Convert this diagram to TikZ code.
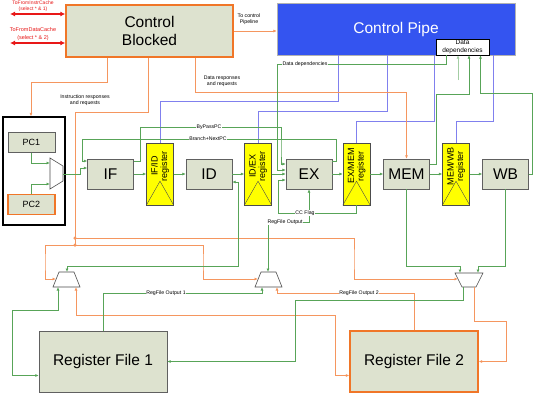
\documentclass[tikz,border=0pt]{standalone}
\usepackage{fontspec}
\setmainfont{Liberation Sans}
\usetikzlibrary{arrows.meta}

\definecolor{boxfill}{RGB}{221,226,207}
\definecolor{pipeblue}{RGB}{52,84,240}
\definecolor{wireblue}{RGB}{128,128,238}
\definecolor{wiregreen}{RGB}{88,164,88}
\definecolor{wireorange}{RGB}{245,150,95}
\definecolor{edgeorange}{RGB}{240,118,40}
\definecolor{regyellow}{RGB}{255,255,0}
\definecolor{wirered}{RGB}{232,24,24}

\begin{document}
\begin{tikzpicture}[x=1pt, y=-1pt,
  >={Latex[length=3.5pt,width=3pt]},
  box/.style={rectangle, draw=gray!75!black, fill=boxfill, inner sep=0pt, align=center},
  stage/.style={box, minimum width=46pt, minimum height=30pt, font=\fontsize{15.5}{17}\selectfont},
  hot/.style={draw=edgeorange, line width=1.4pt},
  pipereg/.style={rectangle, draw=black!70, fill=regyellow, minimum width=27pt, minimum height=62pt, inner sep=0pt},
  regtext/.style={rotate=90, align=center, font=\fontsize{9}{9.5}\selectfont},
  lbl/.style={font=\fontsize{5.2}{6}\selectfont, align=center, inner sep=0.6pt},
  onwire/.style={lbl, fill=white},
  gwire/.style={draw=wiregreen, line width=0.8pt, ->},
  owire/.style={draw=wireorange, line width=1pt},
  bwire/.style={draw=wireblue, line width=1pt},
  redw/.style={draw=wirered, line width=1.6pt, {Latex[length=5pt,width=5pt]}-{Latex[length=5pt,width=5pt]}},
  mux/.style={draw=gray!60!black, fill=white, line width=0.6pt},
  dot/.style={circle, fill=wireorange, inner sep=0pt, minimum size=3.5pt}
]
  \fill[white] (0,0) rectangle (537,400);
  \useasboundingbox (0,0) rectangle (537,400);

  % control blocks
  \node[box, hot, minimum width=167pt, minimum height=52pt, font=\fontsize{15.5}{18}\selectfont] (cblocked) at (149.5,31) {Control\\Blocked};
  \node[rectangle, draw=gray!60, fill=pipeblue, text=white, minimum width=238pt, minimum height=52pt, font=\fontsize{15.5}{17}\selectfont] (cpipe) at (396,29) {Control Pipe};
  \node[rectangle, draw=black, fill=white, minimum width=53pt, minimum height=16pt, inner sep=0pt, align=center, font=\fontsize{6.5}{7.5}\selectfont] (ddep) at (462.5,47) {Data\\dependencies};

  % program counters
  \node[rectangle, draw=black, line width=1.3pt, minimum width=62pt, minimum height=108pt] (pcbox) at (34,171) {};
  \node[box, minimum width=47pt, minimum height=20pt, font=\fontsize{9}{10}\selectfont] (pc1) at (31.5,142.5) {PC1};
  \node[box, hot, minimum width=47pt, minimum height=20pt, font=\fontsize{9}{10}\selectfont] (pc2) at (31.5,204.5) {PC2};

  % pipeline
  \node[stage]   (if)    at (110.5,174) {IF};
  \node[pipereg] (ifid)  at (160,174)   {};
  \node[stage]   (id)    at (209,174)   {ID};
  \node[pipereg] (idex)  at (258,174)   {};
  \node[stage]   (ex)    at (309,174)   {EX};
  \node[pipereg] (exmem) at (356.5,174) {};
  \node[stage]   (mem)   at (406.5,174) {MEM};
  \node[pipereg] (memwb) at (456,174)   {};
  \node[stage]   (wb)    at (505.5,174) {WB};

  \foreach \r/\t in {ifid/{IF/ID}, idex/{ID/EX}, exmem/{EX/MEM}, memwb/{MEM/WB}} {
    \node[regtext] (\r-txt) at ([yshift=8pt]\r.center) {\t\\register};
    \draw[black!70] (\r.south west) -- ([yshift=24pt]\r.south) -- (\r.south east);
  }

  % register files
  \node[box, minimum width=128pt, minimum height=61pt, font=\fontsize{15.5}{17}\selectfont] (rf1) at (103,361.5) {Register File 1};
  \node[box, hot, minimum width=128pt, minimum height=61pt, font=\fontsize{15.5}{17}\selectfont] (rf2) at (414,361.5) {Register File 2};

  % muxes
  \draw[mux] (50,158) -- (63,166) -- (63,181) -- (50,189) -- cycle;
  \draw[mux] (59,272) -- (74,272) -- (80,287) -- (53,287) -- cycle;
  \draw[mux] (261,272) -- (276,272) -- (282,287) -- (255,287) -- cycle;
  \draw[mux] (455,273) -- (483,273) -- (476,287) -- (462,287) -- cycle;
  \coordinate (mpa) at (50,163);
  \coordinate (mpb) at (50,184);
  \coordinate (mpo) at (63,174);
  \coordinate (m1o) at (67,272);
  \coordinate (m1a) at (58,287);
  \coordinate (m1b) at (76,287);
  \coordinate (m1s) at (56,279);
  \coordinate (m2o) at (268,272);
  \coordinate (m2a) at (262,287);
  \coordinate (m2b) at (277,287);
  \coordinate (m2s) at (258,279);
  \coordinate (m3a) at (460,273);
  \coordinate (m3b) at (478,273);
  \coordinate (m3o) at (463,287);
  \coordinate (m3p) at (474,287);
  \coordinate (m3s) at (458,279);
  \coordinate (jn) at (75,238);
  \coordinate (jm) at (75,245);
  \coordinate (dd3) at (458,80);
  \coordinate (r1) at (10,14);
  \coordinate (r2) at (10,43);

  % blue control lines
  \draw[bwire] (ifid.north) -- ++(0,-41) -| ([xshift=-58pt]cpipe.south);
  \draw[bwire] (idex.north) -- ++(0,-31) -| ([xshift=-9pt]cpipe.south);
  \draw[bwire] (exmem.north) -- ++(0,-21) -| ([xshift=38.5pt]cpipe.south);
  \draw[bwire] (memwb.north) -- ++(0,-21) -| ([xshift=97pt]cpipe.south);

  % orange lines
  \draw[owire, ->] ([xshift=-42pt]cblocked.south) -- ++(0,25) -| ([xshift=-3pt]pcbox.north);
  \draw[owire] ([xshift=-1pt]cblocked.south) |- (75,112) -- (jm);
  \draw[owire, ->] (jn) -| (354,260) |- (m3s);
  \draw[owire, ->] (jm) -| (45,262) |- (m1s);
  \draw[owire, ->] (jm) -| (203,262) |- (m2s);
  \draw[owire, ->] ([xshift=46pt]cblocked.south) -- ++(0,35) -| (mem.north);
  \draw[owire, ->] (cblocked.east) -- (cblocked.east -| cpipe.west);
  \draw[owire, ->] (rf2.north) |- ([yshift=-6pt]m2b) -- (m2b);
  \draw[owire, <->] (m1b) |- (335,315) |- ([yshift=-14pt]rf2.west);
  \draw[owire, ->] (m3p) |- (506,321) |- (rf2.east);
  \node[dot] (jndot) at (jn) {};
  \node[dot] (jmdot) at (jm) {};

  % green data lines
  \draw[gwire] (pc1.south) |- (mpa);
  \draw[gwire] (pc2.north) |- (mpb);
  \draw[gwire] (mpo) -- (80,174) |- ([yshift=6pt]if.west);
  \foreach \a/\b in {if/ifid, ifid/id, id/idex, idex/ex, ex/exmem, exmem/mem, mem/memwb, memwb/wb}
    \draw[gwire] (\a) -- (\b);
  \draw[gwire] ([yshift=13pt]ex.east) -- ++(4,0) |- (82,139) |- ([yshift=13pt]if.west);
  \draw[gwire] ([yshift=13pt]if.east) -| (140,127) -| (281,150) |- ([yshift=10pt]ex.west);
  \draw[gwire] ([xshift=-16pt]ddep.south) |- (277,64) |- ([yshift=4pt]ex.west);
  \draw[gwire] (exmem.south) |- (278,213) |- ([yshift=-6pt]ex.west);
  \draw[gwire, <->] (m2o) |- (290,222) -| (ex.south);
  \draw[gwire, <->] (m1o) |- (238,266) |- ([yshift=-8pt]id.east);
  \draw[gwire] (rf1.north) |- ([yshift=-6pt]m2a) -- (m2a);
  \draw[gwire] (mem.south) |- ([yshift=7pt]m3a) -- (m3a);
  \draw[gwire] (wb.south) |- ([yshift=7pt]m3b) -- (m3b);
  \draw[gwire] (m3o) |- (295,300) |- (rf1.east);
  \draw[gwire, <->] (m1a) |- (12,310) |- ([yshift=-14pt]rf1.west);
  \draw[gwire] ([yshift=10pt]mem.east) -- ++(7,0) -- ++(0,-70) -| ([xshift=6.5pt]ddep.south);
  \draw[gwire] (wb.east) -- ++(4,0) -- ++(0,-81) -| ([xshift=18pt]ddep.south);
  \draw[gwire, draw=wiregreen!55] (dd3) -- ([xshift=-4.5pt]ddep.south);

  % cache links
  \draw[redw] (r1) -- (r1 -| cblocked.west);
  \draw[redw] (r2) -- (r2 -| cblocked.west);

  % labels
  \node[lbl, text=wirered, font=\fontsize{5}{6}\selectfont] (icache) at (33,6) {ToFromInstrCache\\(select * \& 1)};
  \node[lbl, text=wirered, font=\fontsize{5.5}{8}\selectfont] (dcache) at (33,34) {ToFromDataCache\\(select * \& 2)};
  \node[lbl] (topipe) at (249,19) {To control\\Pipeline};
  \node[onwire] (ddlbl) at (305,64) {Data dependencies};
  \node[lbl] (drlbl) at (222,81) {Data responses\\and requests};
  \node[lbl] (irlbl) at (85,100) {Instruction responses\\and requests};
  \node[onwire] (bplbl) at (209,127) {ByPassPC};
  \node[onwire] (bnlbl) at (208,139) {Branch+NextPC};
  \node[onwire] (cclbl) at (305,213) {CC Flag};
  \node[onwire] (rolbl) at (285,222) {RegFile Output};
  \node[onwire] (ro1lbl) at (166,293) {RegFile Output 1};
  \node[onwire] (ro2lbl) at (359,293) {RegFile Output 2};
\end{tikzpicture}
\end{document}
